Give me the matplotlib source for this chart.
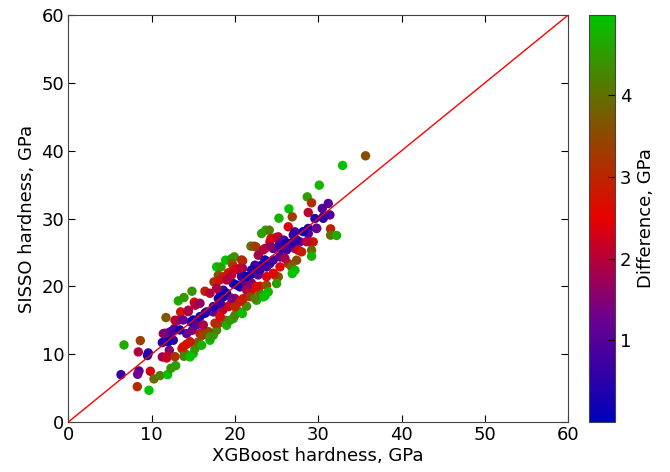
import numpy as np
import matplotlib
matplotlib.use("Agg")
import matplotlib.pyplot as plt
from matplotlib.colors import LinearSegmentedColormap

# XGBoost predicted hardness (GPa)
xgb = [6.32, 6.68, 8.64, 8.4, 8.48, 8.32, 8.28, 9.6, 9.5, 9.68, 9.84, 10.28, 11.0, 11.92, 12.32,
       12.88, 11.28, 11.8, 12.12, 11.28, 11.4, 11.72, 12.2, 12.0, 12.72, 12.6, 12.8, 13.2, 13.48,
       13.2, 13.88, 14.4, 14.84, 15.12, 15.24, 13.64, 14.0, 13.88, 14.6, 15.0, 15.2, 14.2, 14.2,
       14.88, 14.72, 15.48, 15.8, 16.28, 15.6, 16.0, 16.12, 16.4, 16.6, 17.4, 17.48, 17.0, 17.4,
       17.8, 18.0, 18.0, 18.2, 18.6, 18.6, 18.4, 18.52, 18.8, 19.0, 19.4, 19.8, 20.0, 20.6, 20.88,
       21.4, 17.8, 18.32, 18.0, 17.48, 18.12, 18.6, 18.88, 19.6, 19.92, 19.68, 19.8, 19.2, 20.12,
       20.92, 20.92, 20.8, 19.8, 20.6, 21.2, 21.4, 21.8, 20.0, 19.4, 20.2, 21.0, 21.6, 22.0, 22.6,
       23.0, 23.8, 24.0, 23.0, 22.6, 23.4, 21.92, 22.32, 22.52, 22.8, 23.6, 23.2, 22.4, 22.12,
       22.8, 23.8, 24.2, 23.2, 23.68, 24.12, 24.32, 24.2, 24.92, 24.6, 25.2, 25.4, 25.6, 25.88,
       26.2, 26.4, 25.4, 25.4, 25.2, 24.8, 25.0, 23.6, 25.28, 26.48, 26.88, 26.4, 27.2, 27.8,
       27.2, 27.6, 28.0, 27.4, 26.4, 26.8, 27.2, 26.88, 28.68, 29.2, 28.8, 29.6, 29.8, 28.8, 28.8,
       29.0, 29.4, 29.2, 29.2, 30.48, 31.2, 30.6, 31.48, 31.48, 32.2, 30.12, 32.92, 35.68,
       11.99, 11.59, 12.4, 13.39, 13.79, 14.39, 14.99, 15.4, 15.8, 16.4, 15.8, 16.8, 17.6, 18.2,
       18.4, 19.0, 19.6, 19.2, 20.0, 20.6, 20.8, 20.2, 21.4, 22.0, 22.6, 22.8, 23.0, 23.8, 23.6,
       24.6, 25.4, 25.2, 26.2, 26.0, 26.8, 27.4, 27.0, 28.2, 28.6, 29.8, 30.6, 31.4, 13.8, 14.6,
       11.8, 12.8, 17.4, 18.2, 21.8, 22.4, 23.8, 24.6, 24.2, 23.4, 22.0, 21.4, 20.8, 19.0, 19.6,
       20.6, 17.8, 17.0, 16.2, 17.0]

# SISSO predicted hardness (GPa)
sisso = [6.98, 11.36, 12.0, 10.33, 7.53, 7.03, 5.21, 10.18, 9.8, 4.67, 7.48, 6.35, 6.84, 6.98, 7.92,
         8.31, 9.59, 9.44, 10.58, 11.71, 13.03, 15.4, 13.28, 12.3, 13.77, 12.05, 15.0, 15.0, 16.23,
         17.86, 18.35, 16.48, 19.28, 17.66, 17.22, 10.82, 10.08, 9.69, 9.59, 10.08, 10.82, 11.46, 13.03,
         13.53, 14.76, 14.51, 13.03, 13.28, 11.8, 11.31, 12.79, 19.28, 16.23, 16.23, 16.97, 12.05, 12.79,
         13.53, 14.51, 18.2, 19.18, 19.43, 18.45, 17.22, 16.48, 15.0, 14.26, 15.0, 15.25, 15.74, 16.23, 15.99,
         17.07, 22.87, 22.87, 21.64, 20.66, 20.9, 21.4, 23.86, 24.1, 24.35, 23.36, 22.87, 21.99, 22.48,
         23.76, 22.63, 21.64, 20.41, 19.92, 20.66, 20.17, 20.66, 18.2, 17.22, 17.46, 18.2, 19.18, 19.43, 19.82,
         20.02, 20.17, 19.18, 18.94, 17.95, 18.45, 25.92, 25.92, 25.82, 24.59, 25.58, 23.12, 23.12, 21.89,
         21.99, 22.87, 23.36, 27.79, 28.28, 28.28, 27.05, 26.56, 27.2, 25.58, 27.3, 26.32, 25.58, 26.81,
         26.41, 25.92, 24.35, 22.87, 21.4, 21.64, 20.41, 18.6, 30.05, 31.43, 30.25, 28.78, 28.04, 26.56,
         25.58, 25.33, 25.09, 23.86, 23.36, 22.87, 22.38, 21.89, 33.2, 32.32, 30.89, 30.0, 28.53, 28.53, 27.79,
         26.56, 26.56, 25.33, 24.45, 31.48, 32.22, 30.25, 28.48, 27.55, 27.5, 34.92, 37.83, 39.25,
         11.84, 13.08, 13.32, 13.57, 15.04, 16.27, 15.04, 14.31, 15.53, 16.03, 17.5, 13.32, 14.56, 15.53,
         18.48, 18.98, 18.24, 17.0, 17.0, 17.74, 21.43, 20.2, 19.47, 20.45, 19.96, 21.68, 22.42, 22.91, 23.89,
         23.89, 24.38, 25.86, 25.37, 24.14, 26.36, 26.84, 27.58, 28.07, 26.59, 28.57, 30.04, 30.53, 11.1, 11.84,
         9.63, 9.63, 17.0, 17.5, 18.48, 18.24, 21.43, 21.93, 25.86, 25.37, 22.42, 21.43, 23.89, 20.94, 21.68,
         22.67, 19.72, 18.98, 14.31, 12.58]

xgb = np.array(xgb)
sisso = np.array(sisso)
diff = np.abs(sisso - xgb)

cmap = LinearSegmentedColormap.from_list("brg_dark", ["#0000bb", "#6a0090", "#e80000", "#7a5a00", "#00c400"])

fig = plt.figure(figsize=(6.7, 4.72), dpi=100)
ax = fig.add_axes([0.102, 0.106, 0.746, 0.862])
cax = fig.add_axes([0.879, 0.106, 0.039, 0.862])

sc = ax.scatter(xgb, sisso, c=diff, cmap=cmap, vmin=0.0, vmax=4.98, s=46, linewidths=0, zorder=2)
ax.plot([0, 60], [0, 60], color="red", lw=1, zorder=3)

ax.set_xlim(0, 60)
ax.set_ylim(0, 60)
ax.set_xticks(range(0, 61, 10))
ax.set_yticks(range(0, 61, 10))
ax.tick_params(direction="in", top=True, right=True, labelsize=13, length=5, pad=3)
ax.set_xlabel("XGBoost hardness, GPa", fontsize=13, labelpad=2)
ax.set_ylabel("SISSO hardness, GPa", fontsize=13, labelpad=4)
for sp in ax.spines.values():
    sp.set_color("#444444")

cb = fig.colorbar(sc, cax=cax)
cb.set_ticks([1, 2, 3, 4])
cb.ax.tick_params(direction="in", labelsize=13, length=5)
cb.set_label("Difference, GPa", fontsize=13, labelpad=4)
cb.outline.set_edgecolor("#444444")

fig.savefig("out.png", dpi=100)
